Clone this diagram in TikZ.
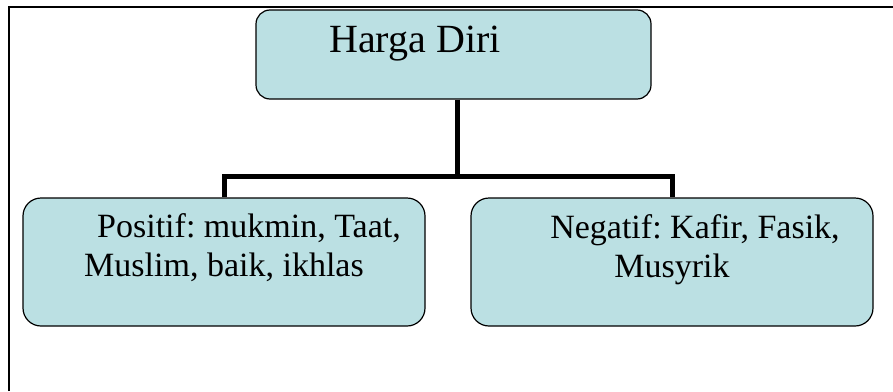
\documentclass[tikz,border=0pt]{standalone}
\usepackage{fontspec}
\setmainfont{Liberation Serif}
\definecolor{boxblue}{RGB}{187,224,227}
\frenchspacing

\begin{document}
\begin{tikzpicture}[x=1pt, y=-1pt,
    chartbox/.style={draw, line width=1.2pt, fill=boxblue, rounded corners=18pt, minimum width=402pt, minimum height=128pt, inner sep=0pt},
    boxtext/.style={inner sep=0pt, align=center, font=\fontsize{34}{39}\selectfont},
    link/.style={line width=5pt}]
    \useasboundingbox (0, 0) rectangle (893, 391);
    \draw[line width=2.5pt] (9, 391) -- (9, 7) -- (893, 7);

    \node[chartbox, minimum width=395pt, minimum height=89pt, rounded corners=14pt] (harga) at (453.5, 54.5) {};
    \node[chartbox] (positif) at (224, 262) {};
    \node[chartbox] (negatif) at (672, 262) {};

    \node[boxtext, anchor=base west, font=\fontsize{40}{46}\selectfont] (hargatext) at (329, 52) {Harga Diri};
    \node[boxtext, anchor=base] (positiftext) at (224, 276) {\hspace*{50pt}Positif: mukmin, Taat,\\Muslim, baik, ikhlas};
    \node[boxtext, anchor=base] (negatiftext) at (672, 277) {\hspace*{46pt}Negatif: Kafir, Fasik,\\Musyrik};

    \coordinate (hub) at (457, 176);
    \draw[link] (harga.south -| hub) -- (hub);
    \draw[link] (positif.north) |- (hub) -| (negatif.north);
\end{tikzpicture}
\end{document}
